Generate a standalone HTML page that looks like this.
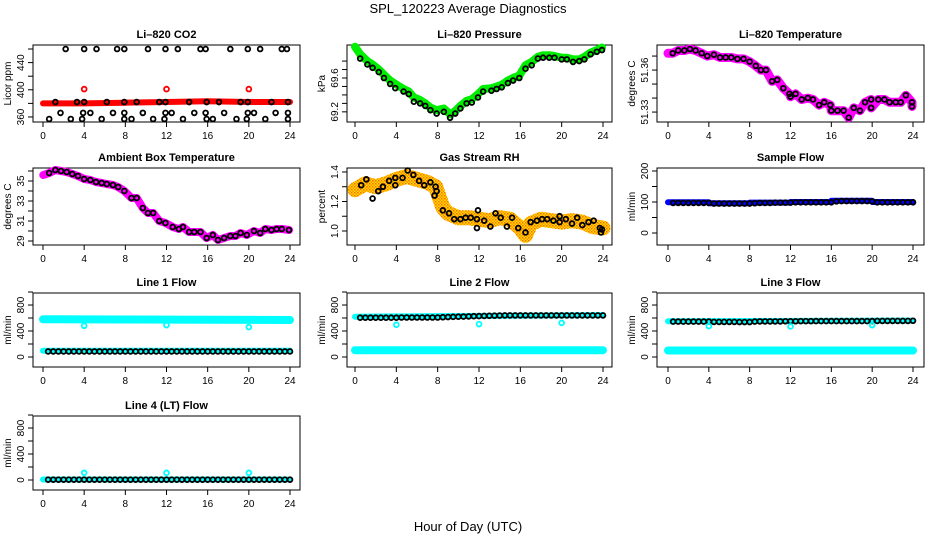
<!DOCTYPE html>
<html><head><meta charset="utf-8"><title>SPL_120223 Average Diagnostics</title>
<style>
html,body{margin:0;padding:0;background:#fff;}
svg{display:block;font-family:"Liberation Sans",sans-serif;}
</style></head>
<body>
<svg id="chart" width="936" height="540" viewBox="0 0 936 540">
<defs>
<pattern id="rhpat" width="3" height="3" patternUnits="userSpaceOnUse">
<rect width="3" height="3" fill="#ffe000"/>
<rect width="1.5" height="1.5" fill="#ff6a00"/>
<rect x="1.5" y="1.5" width="1.5" height="1.5" fill="#ff9000"/>
</pattern>
</defs>
<text x="468" y="13" text-anchor="middle" font-size="13">SPL_120223  Average Diagnostics</text>
<text x="468" y="531" text-anchor="middle" font-size="13">Hour of Day (UTC)</text>
</svg>
<script>
// ---------- data ----------
const xTicks = [0,4,8,12,16,20,24];
// CO2
const co2LineHours = [0,4,8,12,16,20,24];
const co2LineValues = [380,380,381,382,383,382,382];
const co2PointHours = [2.2,4.0,5.2,7.2,7.9,10.2,11.9,13.1,15.3,15.8,18.2,19.9,21.1,23.2,23.7,
 1.2,3.3,4.0,6.2,7.9,9.1,11.3,11.9,14.2,15.9,17.1,19.2,19.9,22.2,23.8,
 1.7,3.9,4.6,6.8,7.9,9.7,11.9,12.5,14.7,15.8,17.6,19.9,20.5,22.6,23.8,
 0.6,2.7,3.8,5.7,7.9,8.6,10.7,11.8,13.6,15.9,16.5,18.8,19.8,21.6,23.8];
const co2PointValues = [460,460,460,460,460,460,460,460,460,460,460,460,460,460,460,
 382,382,382,382,382,382,382,382,382,382,382,382,382,382,382,
 366,366,366,366,366,366,366,366,366,366,366,366,366,366,366,
 357,357,357,357,357,357,357,357,357,357,357,357,357,357,357];
const co2OutlierHours = [4,12,20];
const co2OutlierValues = [401,401,401];
// Pressure
const presHours = [0,0.5,1.2,1.7,2.3,2.8,3.4,3.9,4.7,5.2,5.7,6.3,6.8,7.3,7.9,8.6,9.2,9.7,10.2,10.8,11.3,11.9,12.4,13.2,13.7,14.2,14.8,15.3,15.9,16.5,17.1,17.7,18.2,18.8,19.3,20.0,20.5,21.1,21.7,22.2,22.8,23.4,23.9];
const presBand = [69.97,69.88,69.80,69.76,69.70,69.64,69.57,69.53,69.47,69.44,69.37,69.34,69.30,69.25,69.22,69.24,69.17,69.21,69.27,69.33,69.35,69.41,69.47,69.48,69.50,69.52,69.57,69.60,69.63,69.75,69.79,69.85,69.87,69.87,69.86,69.84,69.84,69.82,69.82,69.85,69.90,69.93,69.96];
const presValues = [69.95,69.83,69.76,69.72,69.67,69.60,69.53,69.48,69.44,69.41,69.32,69.30,69.27,69.22,69.18,69.20,69.13,69.18,69.24,69.30,69.31,69.37,69.44,69.45,69.47,69.49,69.54,69.57,69.60,69.71,69.75,69.83,69.84,69.84,69.84,69.82,69.82,69.79,69.80,69.82,69.88,69.91,69.93];
// Li-820 temperature
const ltHours = [0,0.46,1.0,1.6,2.15,2.7,3.3,3.85,4.5,5.1,5.65,6.2,6.8,7.4,8.0,8.6,9.1,9.6,10.2,10.7,11.3,11.9,12.0,12.5,13.1,13.7,14.2,14.8,15.3,15.9,16.0,16.6,17.2,17.7,18.2,18.8,19.3,19.9,19.9,20.6,21.2,21.7,22.3,22.8,23.3,23.9,23.9];
const ltValues = [51.372,51.372,51.374,51.374,51.375,51.374,51.372,51.370,51.371,51.369,51.369,51.369,51.368,51.368,51.366,51.363,51.360,51.360,51.352,51.353,51.347,51.343,51.341,51.343,51.339,51.340,51.339,51.335,51.337,51.335,51.331,51.331,51.331,51.326,51.333,51.331,51.337,51.339,51.333,51.339,51.339,51.337,51.337,51.337,51.342,51.337,51.334];
// Ambient box temperature
const abHours = [0.03,0.6,1.2,1.75,2.3,2.85,3.4,4.0,4.6,5.15,5.7,6.2,6.8,7.3,7.9,8.6,9.1,9.7,10.2,10.7,11.3,11.9,12.6,13.2,13.6,14.2,14.7,15.3,15.9,16.5,17.0,17.6,18.2,18.7,19.2,19.8,20.5,21.1,21.6,22.2,22.7,23.2,23.9];
const abValues = [35.6,35.8,36.1,36.0,35.9,35.7,35.5,35.2,35.1,34.9,34.8,34.7,34.6,34.4,34.0,33.3,33.3,32.3,31.8,31.8,31.0,30.8,30.4,30.2,30.4,29.9,29.9,29.9,29.3,29.6,29.1,29.3,29.5,29.5,29.8,29.6,30.0,29.8,30.2,30.1,30.2,30.2,30.1];
// Gas stream RH
const rhHours = [0,0.6,1.1,1.7,2.25,2.7,3.3,3.9,3.9,4.6,5.1,5.65,6.2,6.7,7.3,7.8,7.9,7.7,8.5,9.1,9.6,10.2,10.7,11.2,11.8,11.9,11.8,12.5,13.1,13.6,14.1,14.7,15.2,15.8,16.5,17.0,17.6,18.1,18.6,19.2,19.8,19.8,20.4,21.0,21.5,22.0,22.6,23.1,23.7,23.8,23.9];
const rhValues = [1.28,1.31,1.35,1.22,1.27,1.30,1.34,1.36,1.31,1.36,1.41,1.38,1.34,1.31,1.33,1.30,1.27,1.24,1.14,1.12,1.08,1.08,1.09,1.09,1.08,1.14,1.02,1.07,1.03,1.12,1.09,1.03,1.09,1.02,0.99,1.06,1.07,1.08,1.08,1.07,1.06,1.10,1.08,1.05,1.09,1.04,1.06,1.07,1.02,0.99,1.01];
const rhBandHours = [0,1,2,3,4,5,6,7,7.8,8.5,9,10,11,12,13,14,15,16,16.5,17,18,19,20,21,22,23,24];
const rhBandValues = [1.28,1.32,1.30,1.32,1.35,1.37,1.35,1.33,1.30,1.16,1.12,1.09,1.09,1.08,1.07,1.09,1.08,1.02,0.97,1.05,1.08,1.07,1.06,1.07,1.06,1.03,1.02];
// Sample flow (black points every half hour from 0.5 h)
const sampleValues = [97,97,97,97,97,97,97,97,95,95,95,95,95,95,95,95,96,97,97,97,98,98,98,98,99,99,99,99,99,99,99,99,102,103,103,103,103,103,103,102,99,99,99,99,99,99,99,99];
const sampleBandHours = [0,4,4,8,8,12,12,16,16,20,20,24];
const sampleBandValues = [99,99,96,96,98,98,100,100,104,104,100,100];
// Line flows
const l1Values = [85,85,85,85,85,85,85,85,85,85,85,85,85,85,85,85,85,85,85,85,85,85,85,85,85,85,85,85,85,85,85,85,85,85,85,85,85,85,85,85,85,85,85,85,85,85,85,85];
const l1HighHours = [0,24];
const l1HighValues = [580,570];
const l1LowHours = [0,24];
const l1LowValues = [95,95];
const l1OutHours = [4,12,20];
const l1OutValues = [480,490,460];
const l2Values = [605,605,605,605,605,605,605,605,608,608,608,608,608,608,608,608,612,615,618,620,622,625,628,630,632,634,636,638,640,640,640,640,640,640,640,640,640,640,640,640,640,640,640,640,640,640,640,640];
const l2HighHours = [0,24];
const l2HighValues = [620,645];
const l2LowHours = [0,24];
const l2LowValues = [105,105];
const l2OutHours = [4,12,20];
const l2OutValues = [495,505,525];
const l3Values = [545,545,545,545,545,545,545,545,540,540,540,540,540,538,538,538,545,548,548,548,548,548,550,550,550,552,552,552,553,553,553,553,553,553,553,553,553,553,553,553,555,555,555,555,555,555,555,558];
const l3HighHours = [0,24];
const l3HighValues = [550,560];
const l3LowHours = [0,24];
const l3LowValues = [100,100];
const l3OutHours = [4,12,20];
const l3OutValues = [475,470,490];
const l4Values = [5,5,5,5,5,5,5,5,5,5,5,5,5,5,5,5,5,5,5,5,5,5,5,5,5,5,5,5,5,5,5,5,5,5,5,5,5,5,5,5,5,5,5,5,5,5,5,5];
const l4LowHours = [0,24];
const l4LowValues = [8,8];
const l4OutHours = [4,12,20];
const l4OutValues = [110,110,110];

// ---------- drawing ----------
const NS = 'http://www.w3.org/2000/svg';
const svg = document.getElementById('chart');
function mk(tag, attrs, parent){
  const e = document.createElementNS(NS, tag);
  for (const k in attrs) e.setAttribute(k, attrs[k]);
  (parent||svg).appendChild(e);
  return e;
}
const halfHours = [];
for (let i = 1; i <= 48; i++) halfHours.push(i * 0.5);

const cols = [{L:33,R:300,x0:43,x1:290},{L:347,R:612,x0:355,x1:603},{L:657,R:924,x0:668,x1:913}];
const rows = [{T:45,B:122},{T:168,B:245},{T:293,B:367},{T:416,B:490}];

function panel(p){
  const c = cols[p.col], r = rows[p.row];
  const g = mk('g', {});
  
  
  const sx = h => c.x0 + (c.x1 - c.x0) * h / 24;
  const sy = v => r.B - (r.B - r.T) * (v - p.ymin) / (p.ymax - p.ymin);
  const box = mk('rect', {x:c.L, y:r.T, width:c.R-c.L, height:r.B-r.T, fill:'none', stroke:'#000', 'stroke-width':1}, g);
  
  
  const t = mk('text', {x:(c.L+c.R)/2, y:r.T-7, 'text-anchor':'middle', 'font-size':11, 'font-weight':'bold'}, g);
  t.textContent = p.title;
  
  
  xTicks.forEach(h => {
    mk('line', {x1:sx(h), x2:sx(h), y1:r.B, y2:r.B+5, stroke:'#000'}, g);
    const tl = mk('text', {x:sx(h), y:r.B+17, 'text-anchor':'middle', 'font-size':10}, g);
    tl.textContent = h;
    
    
  });
  p.yTicks.forEach(v => {
    mk('line', {x1:c.L-5, x2:c.L, y1:sy(v), y2:sy(v), stroke:'#000'}, g);
  });
  p.yLabels.forEach((v, i) => {
    const lx = c.L - 9, ly = sy(v);
    const yl = mk('text', {x:lx, y:ly, 'text-anchor':'middle', 'font-size':10, transform:`rotate(-90 ${lx} ${ly})`}, g);
    yl.textContent = p.yLabelText ? p.yLabelText[i] : v;
    
    
  });
  const ax = c.L - 22, ay = (r.T + r.B) / 2;
  const yt = mk('text', {x:ax, y:ay, 'text-anchor':'middle', 'font-size':10, transform:`rotate(-90 ${ax} ${ay})`}, g);
  yt.textContent = p.ylab;
  
  
  (p.bands||[]).forEach(b => {
    const pts = b.h.map((h,i) => sx(h).toFixed(1)+','+sy(b.v[i]).toFixed(1)).join(' ');
    const pl = mk('polyline', {points:pts, fill:'none', stroke:b.color, 'stroke-width':b.w, 'stroke-linecap':'round', 'stroke-linejoin':'round', opacity:b.op||1}, g);
    
    
  });
  (p.points||[]).forEach(s => {
    s.h.forEach((h,i) => {
      const ci = mk('circle', {cx:sx(h), cy:sy(s.v[i]), r:s.r||2.4, fill:'none', stroke:s.color, 'stroke-width':1.8}, g);
      
      
    });
  });
}

panel({name:'panel-co2', col:0,row:0,title:'Li\u2013820 CO2',ylab:'Licor ppm',ymin:352.6,ymax:465.9,
  yTicks:[360,380,400,420,440,460], yLabels:[360,400,440],
  bands:[{h:co2LineHours,v:co2LineValues,color:'#ff0000',w:6}],
  points:[{h:co2PointHours,v:co2PointValues,color:'#000'},{h:co2OutlierHours,v:co2OutlierValues,color:'#ff0000'}]});
panel({name:'panel-pressure', col:1,row:0,title:'Li\u2013820 Pressure',ylab:'kPa',ymin:69.08,ymax:69.99,
  yTicks:[69.2,69.3,69.4,69.5,69.6,69.7,69.8], yLabels:[69.2,69.6], yLabelText:['69.2','69.6'],
  bands:[{h:presHours,v:presBand,color:'#00ee00',w:8}],
  points:[{h:presHours.slice(1),v:presValues.slice(1),color:'#000'}]});
panel({name:'panel-li820-temperature', col:2,row:0,title:'Li\u2013820 Temperature',ylab:'degrees C',ymin:51.3229,ymax:51.3779,
  yTicks:[51.33,51.34,51.35,51.36,51.37], yLabels:[51.33,51.36], yLabelText:['51.33','51.36'],
  bands:[{h:ltHours,v:ltValues,color:'#ff00ff',w:9}],
  points:[{h:ltHours.slice(1),v:ltValues.slice(1),color:'#000'}]});
panel({name:'panel-ambient-temperature', col:0,row:1,title:'Ambient Box Temperature',ylab:'degrees C',ymin:28.6,ymax:36.3,
  yTicks:[29,30,31,32,33,34,35,36], yLabels:[29,31,33,35],
  bands:[{h:abHours,v:abValues,color:'#ff00ff',w:8}],
  points:[{h:abHours.slice(1),v:abValues.slice(1),color:'#000'}]});
panel({name:'panel-gas-rh', col:1,row:1,title:'Gas Stream RH',ylab:'percent',ymin:0.905,ymax:1.427,
  yTicks:[1.0,1.1,1.2,1.3,1.4], yLabels:[1.0,1.2,1.4], yLabelText:['1.0','1.2','1.4'],
  bands:[{h:rhBandHours,v:rhBandValues,color:'url(#rhpat)',w:15}],
  points:[{h:rhHours.slice(1),v:rhValues.slice(1),color:'#000'}]});
panel({name:'panel-sample-flow', col:2,row:1,title:'Sample Flow',ylab:'ml/min',ymin:-38.7,ymax:209.7,
  yTicks:[0,50,100,150,200], yLabels:[0,100,200],
  bands:[{h:sampleBandHours,v:sampleBandValues,color:'#0000ff',w:6}],
  points:[{h:halfHours,v:sampleValues,color:'#000'}]});
const flowTicks = [0,200,400,600,800,1000], flowLabels = [0,400,800];
panel({name:'panel-line1-flow', col:0,row:2,title:'Line 1 Flow',ylab:'ml/min',ymin:-154,ymax:985,
  yTicks:flowTicks, yLabels:flowLabels,
  bands:[{h:l1HighHours,v:l1HighValues,color:'#00ffff',w:8},{h:l1LowHours,v:l1LowValues,color:'#00ffff',w:6}],
  points:[{h:halfHours,v:l1Values,color:'#000'},{h:l1OutHours,v:l1OutValues,color:'#00ffff'}]});
panel({name:'panel-line2-flow', col:1,row:2,title:'Line 2 Flow',ylab:'ml/min',ymin:-154,ymax:985,
  yTicks:flowTicks, yLabels:flowLabels,
  bands:[{h:l2HighHours,v:l2HighValues,color:'#00ffff',w:6},{h:l2LowHours,v:l2LowValues,color:'#00ffff',w:8}],
  points:[{h:halfHours,v:l2Values,color:'#000'},{h:l2OutHours,v:l2OutValues,color:'#00ffff'}]});
panel({name:'panel-line3-flow', col:2,row:2,title:'Line 3 Flow',ylab:'ml/min',ymin:-154,ymax:985,
  yTicks:flowTicks, yLabels:flowLabels,
  bands:[{h:l3HighHours,v:l3HighValues,color:'#00ffff',w:6},{h:l3LowHours,v:l3LowValues,color:'#00ffff',w:8}],
  points:[{h:halfHours,v:l3Values,color:'#000'},{h:l3OutHours,v:l3OutValues,color:'#00ffff'}]});
panel({name:'panel-line4-flow', col:0,row:3,title:'Line 4 (LT) Flow',ylab:'ml/min',ymin:-154,ymax:985,
  yTicks:flowTicks, yLabels:flowLabels,
  bands:[{h:l4LowHours,v:l4LowValues,color:'#00ffff',w:6}],
  points:[{h:halfHours,v:l4Values,color:'#000'},{h:l4OutHours,v:l4OutValues,color:'#00ffff'}]});
</script>
</body></html>
